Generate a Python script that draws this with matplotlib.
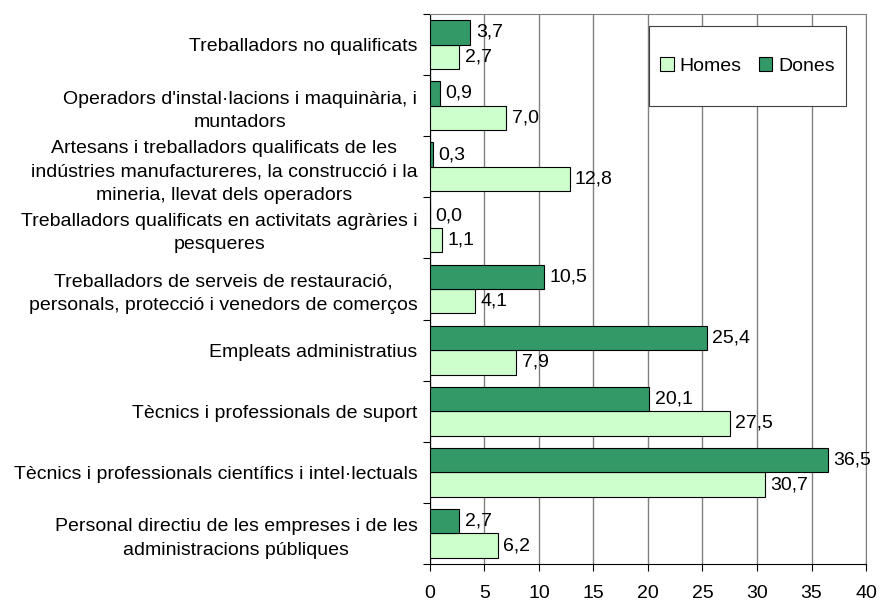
import matplotlib.pyplot as plt
from matplotlib.patches import Rectangle
import numpy as np

plt.rcParams['font.family'] = ['Liberation Sans', 'DejaVu Sans']

# categories from bottom to top
categories = [
    "Personal directiu de les empreses i de les\nadministracions públiques",
    "Tècnics i professionals científics i intel·lectuals",
    "Tècnics i professionals de suport",
    "Empleats administratius",
    "Treballadors de serveis de restauració,\npersonals, protecció i venedors de comerços",
    "Treballadors qualificats en activitats agràries i\npesqueres",
    "Artesans i treballadors qualificats de les\nindústries manufactureres, la construcció i la\nmineria, llevat dels operadors",
    "Operadors d'instal·lacions i maquinària, i\nmuntadors",
    "Treballadors no qualificats",
]
homes = [6.2, 30.7, 27.5, 7.9, 4.1, 1.1, 12.8, 7.0, 2.7]
dones = [2.7, 36.5, 20.1, 25.4, 10.5, 0.0, 0.3, 0.9, 3.7]
xticks = [0, 5, 10, 15, 20, 25, 30, 35, 40]

FS = 14

fig = plt.figure(figsize=(8.8, 6.01), dpi=100)
ax = fig.add_axes([0.4886, 0.0616, 0.4955, 0.9151])

y = np.arange(len(categories))
h = 0.4
b_h = ax.barh(y - h / 2, homes, height=h, color='#CCFFCC', edgecolor='black',
              linewidth=0.8, label='Homes', zorder=3)
b_d = ax.barh(y + h / 2, dones, height=h, color='#339966', edgecolor='black',
              linewidth=0.8, label='Dones', zorder=3)

def fmt(v):
    return f"{v:.1f}".replace('.', ',')

for bars, vals in ((b_h, homes), (b_d, dones)):
    for bar, v in zip(bars, vals):
        ax.text(v + 0.5, bar.get_y() + bar.get_height() / 2, fmt(v),
                va='center', ha='left', fontsize=FS, zorder=4)

ax.set_xlim(0, 40)
ax.set_ylim(-0.5, len(categories) - 0.5)
ax.set_xticks(xticks)
ax.set_xticklabels([str(t) for t in xticks], fontsize=FS)
ax.set_yticks(y)
ax.set_yticklabels(categories, fontsize=FS, multialignment='center',
                   linespacing=1.5)
ax.set_yticks(np.arange(len(categories) + 1) - 0.5, minor=True)
ax.tick_params(axis='y', which='major', length=0, pad=9)
ax.tick_params(axis='y', which='minor', length=5, width=0.8, direction='out')
ax.tick_params(axis='x', length=5, width=0.8, direction='out', pad=10)

ax.grid(axis='x', color='#808080', linewidth=1, zorder=0)
ax.spines['left'].set_color('black')
ax.spines['bottom'].set_color('black')
ax.spines['top'].set_color('#808080')
ax.spines['right'].set_color('#808080')

# legend box
box = Rectangle((0.502, 0.833), 0.452, 0.145, transform=ax.transAxes,
                facecolor='white', edgecolor='#404040', linewidth=0.8,
                zorder=5)
ax.add_patch(box)
leg = ax.legend(handles=[b_h, b_d], ncol=2, loc='center',
                bbox_to_anchor=(0.728, 0.905), fontsize=FS, frameon=False,
                handlelength=0.7, handleheight=0.7, handletextpad=0.3,
                columnspacing=0.9, borderpad=0, borderaxespad=0)
leg.set_zorder(6)

fig.savefig('out.png', dpi=100)
